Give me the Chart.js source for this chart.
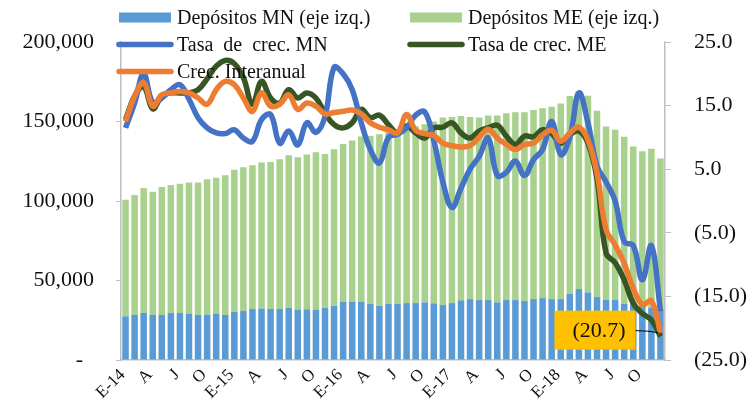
<!DOCTYPE html>
<html>
<head>
<meta charset="utf-8">
<script src="https://cdn.jsdelivr.net/npm/chart.js@4.4.1/dist/chart.umd.min.js"></script>
<style>
  html, body { margin: 0; padding: 0; background: #fff; }
  #wrap { position: relative; width: 756px; height: 409px; }
</style>
</head>
<body>
<div id="wrap"><canvas id="chartContainer" width="756" height="409"></canvas></div>
<script>
// monthly labels, Jan 2014 - Dec 2018 (only every 3rd is shown)
var categories = [
  'E-14','F','M','A','M','J','J','A','S','O','N','D',
  'E-15','F','M','A','M','J','J','A','S','O','N','D',
  'E-16','F','M','A','M','J','J','A','S','O','N','D',
  'E-17','F','M','A','M','J','J','A','S','O','N','D',
  'E-18','F','M','A','M','J','J','A','S','O','N','D'
];

// deposits in national currency (left axis)
var depositosMN = [
  27500, 28300, 29600, 28300, 28300, 29600, 29600, 29000, 28300, 28500, 29000, 28300,
  30200, 30800, 32100, 32400, 32100, 32100, 32700, 31500, 31900, 31500, 32700, 34100,
  36500, 36500, 36500, 35200, 34100, 35200, 35400, 35800, 35800, 36250, 35600, 34600,
  35800, 37500, 38300, 37700, 37700, 36250, 37700, 37700, 37100, 38300, 38900, 38300,
  38300, 41500, 44600, 42500, 39600, 37900, 37700, 35400, 35000, 34000, 33000, 32000
];

// deposits in foreign currency (left axis, stacked on top)
var depositosME = [
  73300, 75450, 78500, 77500, 80450, 80400, 81200, 82700, 83400, 85250, 85600, 87950,
  89400, 90450, 90400, 91800, 92500, 94150, 96050, 96000, 97300, 99100, 96900, 98400,
  99300, 101600, 104100, 105800, 107900, 108300, 109600, 110200, 111200, 112050, 114400, 117900,
  117100, 116000, 114500, 114800, 116050, 117500, 117500, 118100, 118700, 119000, 119400, 120900,
  122950, 124500, 124600, 123750, 117100, 109000, 107100, 105000, 99200, 97250, 99900, 94700
];

// growth rates, % (right axis)
var tasaMN = [
  11.5, 15.4, 20.0, 15.5, 16.2, 17.5, 18.3, 16.0, 13.1, 11.5, 10.7, 10.6,
  11.2, 9.9, 9.4, 12.8, 13.6, 9.1, 11.0, 8.8, 12.3, 10.8, 13.3, 21.0,
  20.0, 17.5, 12.3, 8.1, 6.0, 10.0, 10.5, 11.5, 13.5, 14.0, 9.5, 3.0,
  -1.0, 2.0, 5.0, 7.0, 9.9, 4.0, 4.5, 6.3, 4.0, 6.5, 8.1, 12.5,
  7.3, 10.0, 17.0, 12.3, 5.5, 3.0, 0.0, -6.4, -7.0, -12.4, -7.0, -17.3
];

var tasaME = [
  12.8, 16.5, 18.0, 14.5, 16.5, 17.0, 17.0, 17.0, 17.5, 19.2, 21.2, 22.1,
  21.6, 19.4, 15.2, 18.8, 16.2, 15.4, 17.5, 16.2, 17.0, 16.2, 13.8, 12.0,
  11.5, 12.3, 14.4, 13.1, 13.5, 12.0, 10.7, 11.8, 10.7, 9.9, 11.5, 11.6,
  12.3, 10.7, 9.9, 11.0, 11.5, 11.9, 10.2, 8.9, 10.2, 10.1, 11.2, 10.6,
  9.1, 10.4, 11.0, 9.1, 3.5, -8.2, -9.7, -12.4, -16.1, -17.7, -18.7, -21.3
];

var crecInteranual = [
  12.5, 16.5, 18.6, 14.9, 16.7, 17.0, 17.2, 17.0, 16.2, 15.2, 17.5, 18.8,
  18.3, 16.2, 14.1, 17.0, 14.9, 15.2, 16.7, 14.4, 15.4, 14.9, 13.7, 13.9,
  14.1, 14.3, 13.7, 12.3, 11.6, 11.2, 10.7, 13.6, 11.1, 10.6, 10.3, 9.1,
  8.7, 8.5, 8.7, 10.0, 11.3, 9.9, 8.9, 8.1, 8.9, 9.1, 10.4, 11.1,
  9.4, 10.7, 11.6, 9.6, 4.4, -4.5, -6.9, -9.8, -13.7, -16.3, -15.7, -20.7
];

var leftTicks = [0, 50000, 100000, 150000, 200000];
var rightTicks = [-25, -15, -5, 5, 15, 25];

var colMNBar = '#5B9BD5';
var colMEBar = '#A9D18E';
var colMNLine = '#4472C4';
var colMELine = '#375623';
var colCrec = '#ED7D31';
var serif = "'Liberation Serif', 'Times New Roman', serif";

Chart.defaults.font.family = serif;
Chart.defaults.color = '#111';

function fmtRate(v) {
    return v < 0 ? '(' + Math.abs(v).toFixed(1) + ')' : v.toFixed(1);
}

// legend drawn by hand, Excel style (3 rows, overlapping the plot)
var customLegend = {
    id: 'customLegend',
    afterDraw: function(chart) {
        var ctx = chart.ctx;
        var items = [
            { text: 'Depósitos MN (eje izq.)', kind: 'box', color: colMNBar, x: 119, y: 17.5 },
            { text: 'Depósitos ME (eje izq.)', kind: 'box', color: colMEBar, x: 410, y: 17.5 },
            { text: 'Tasa  de  crec. MN', kind: 'line', color: colMNLine, x: 119, y: 44.5 },
            { text: 'Tasa de crec. ME', kind: 'line', color: colMELine, x: 410, y: 44.5 },
            { text: 'Crec. Interanual', kind: 'line', color: colCrec, x: 119, y: 71.5 }
        ];
        ctx.save();
        items.forEach(function(it) {
            if (it.kind === 'box') {
                ctx.fillStyle = it.color;
                ctx.fillRect(it.x, it.y - 5, 52, 10);
            } else {
                ctx.strokeStyle = it.color;
                ctx.lineWidth = 5.5;
                ctx.lineCap = 'round';
                ctx.beginPath();
                ctx.moveTo(it.x, it.y);
                ctx.lineTo(it.x + 52, it.y);
                ctx.stroke();
            }
            ctx.fillStyle = '#111';
            ctx.font = '20px ' + serif;
            ctx.textBaseline = 'middle';
            ctx.textAlign = 'left';
            ctx.fillText(it.text, it.x + 58, it.y + 1);
        });
        ctx.restore();
    }
};

// data label on the last point of the year-on-year line
var lastLabel = {
    id: 'lastLabel',
    afterDatasetsDraw: function(chart) {
        var meta = chart.getDatasetMeta(4);
        var n = crecInteranual.length - 1;
        var pt = meta.data[n];
        var ctx = chart.ctx;
        ctx.save();
        var bx = pt.x - 106, by = pt.y - 22, bw = 81, bh = 39;
        ctx.strokeStyle = '#000';
        ctx.lineWidth = 1;
        ctx.beginPath();
        ctx.moveTo(bx + bw, pt.y - 2);
        ctx.quadraticCurveTo(pt.x - 12, pt.y - 2, pt.x - 2, pt.y);
        ctx.stroke();
        ctx.fillStyle = '#FFC000';
        ctx.fillRect(bx, by, bw, bh);
        ctx.fillStyle = '#111';
        ctx.font = '22px ' + serif;
        ctx.textAlign = 'center';
        ctx.textBaseline = 'middle';
        ctx.fillText(fmtRate(crecInteranual[n]), bx + bw / 2 + 4, by + bh / 2 + 1);
        ctx.restore();
    }
};

var ctx = document.getElementById('chartContainer').getContext('2d');

var myChart = new Chart(ctx, {
    type: 'bar',
    data: {
        labels: categories,
        datasets: [
            {
                type: 'line', label: 'Tasa de crec. ME', data: tasaME, yAxisID: 'y1',
                borderColor: colMELine, borderWidth: 5.5, pointRadius: 0, tension: 0.4,
                fill: false, order: 2
            },
            {
                type: 'line', label: 'Tasa de crec. MN', data: tasaMN, yAxisID: 'y1',
                borderColor: colMNLine, borderWidth: 5.5, pointRadius: 0, tension: 0.4,
                fill: false, order: 1
            },
            {
                label: 'Depósitos MN (eje izq.)', data: depositosMN, yAxisID: 'y',
                backgroundColor: colMNBar, barPercentage: 0.72, categoryPercentage: 1, order: 3
            },
            {
                label: 'Depósitos ME (eje izq.)', data: depositosME, yAxisID: 'y',
                backgroundColor: colMEBar, barPercentage: 0.72, categoryPercentage: 1, order: 4
            },
            {
                type: 'line', label: 'Crec. Interanual', data: crecInteranual, yAxisID: 'y1',
                borderColor: colCrec, borderWidth: 5.5, pointRadius: 0, tension: 0.4,
                fill: false, order: 0
            }
        ]
    },
    options: {
        responsive: false,
        animation: false,
        layout: { padding: { top: 42, left: 0, right: 0, bottom: 0 } },
        plugins: {
            legend: { display: false },
            tooltip: { enabled: false }
        },
        scales: {
            x: {
                stacked: true,
                grid: { display: false },
                border: { display: true, color: '#BFBFBF', width: 1.5 },
                ticks: {
                    autoSkip: false,
                    minRotation: 45,
                    maxRotation: 45,
                    padding: -3,
                    labelOffset: -3,
                    font: { size: 17 },
                    callback: function(val, idx) {
                        return idx % 3 === 0 ? categories[idx] : '';
                    }
                },
                afterFit: function(s) { s.height = 49; }
            },
            y: {
                stacked: true,
                position: 'left',
                min: leftTicks[0],
                max: leftTicks[leftTicks.length - 1],
                afterBuildTicks: function(s) { s.ticks = leftTicks.map(function(v) { return { value: v }; }); },
                grid: { drawOnChartArea: false, drawTicks: true, tickLength: 5, color: '#BFBFBF' },
                border: { display: true, color: '#BFBFBF', width: 1.5 },
                ticks: {
                    padding: 22,
                    font: { size: 22 },
                    callback: function(v) { return v === 0 ? '-  ' : v.toLocaleString('en-US'); }
                },
                afterFit: function(s) { s.width = 121; }
            },
            y1: {
                position: 'right',
                min: rightTicks[0],
                max: rightTicks[rightTicks.length - 1],
                afterBuildTicks: function(s) { s.ticks = rightTicks.map(function(v) { return { value: v }; }); },
                grid: { drawOnChartArea: false, drawTicks: true, tickLength: 6, color: '#BFBFBF' },
                border: { display: true, color: '#BFBFBF', width: 1.5 },
                ticks: {
                    padding: 23,
                    font: { size: 22 },
                    callback: function(v) { return fmtRate(v); }
                },
                afterFit: function(s) { s.width = 91; }
            }
        }
    },
    plugins: [lastLabel, customLegend]
});
</script>
</body>
</html>
